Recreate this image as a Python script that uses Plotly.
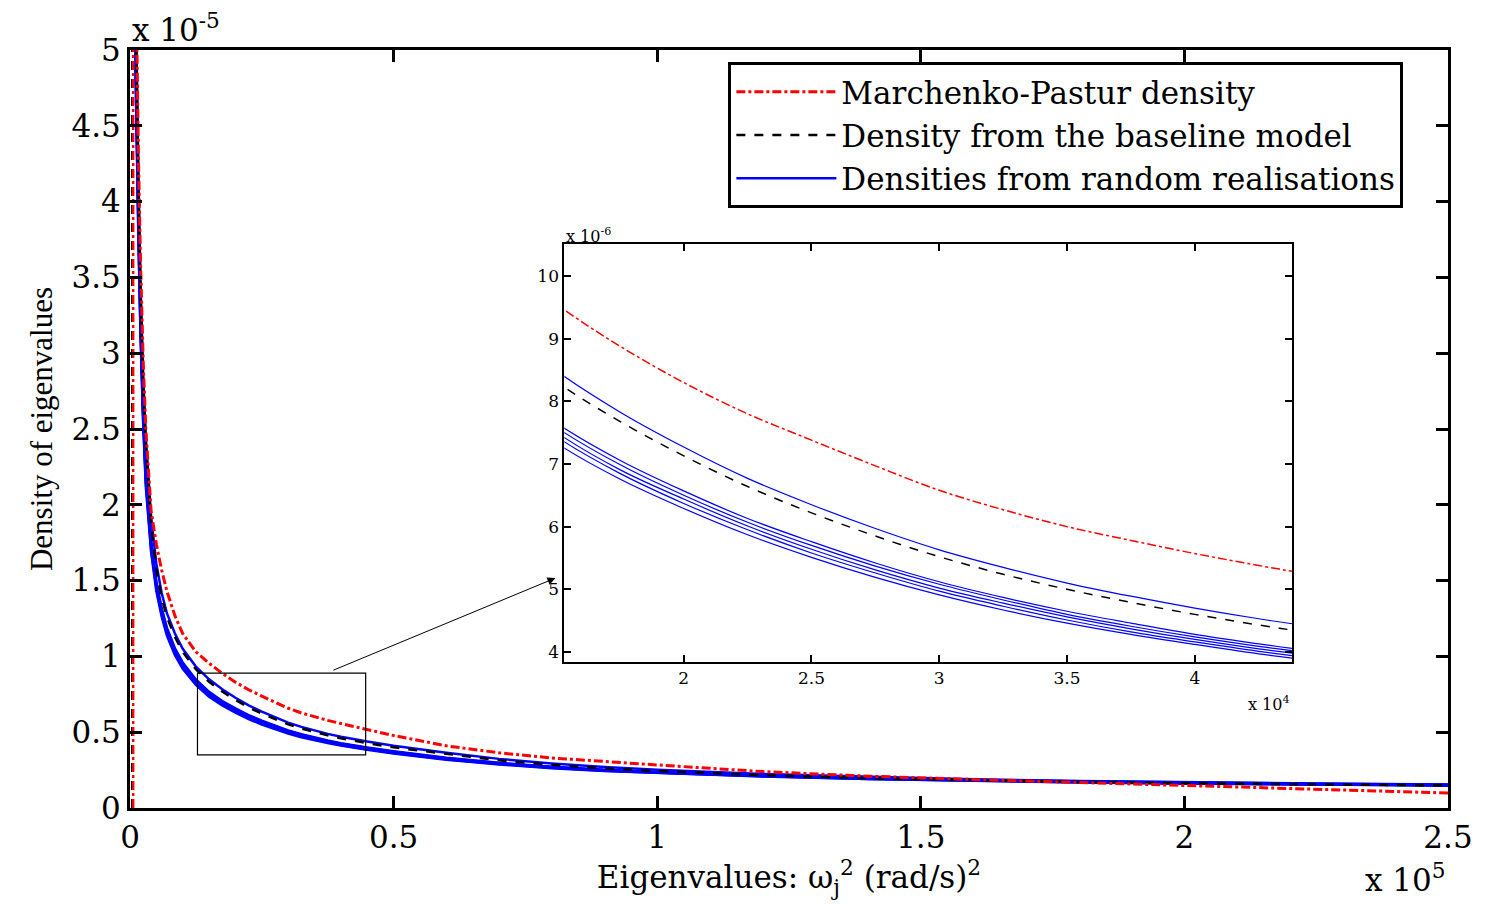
import plotly.graph_objects as go

# ---------------- data (eigenvalue in (rad/s)^2, densities in units of 1e-6) ----------------
eig_x = [1000, 1300, 1600, 2000, 2500, 3000, 3500, 4000, 5000, 6000, 7000, 8500, 10000,
         12500, 15000, 17500, 20000, 22500, 25000, 27500, 30000, 32500, 35000, 37500,
         40000, 42500, 45000, 50000, 60000, 70000, 80000, 90000, 100000, 120000, 140000,
         160000, 180000, 200000, 225000, 250000]

mp_density = [58, 50, 43, 36, 29.5, 25, 22, 19.6, 17.4, 15.7, 14.3, 12.7, 11.5,
              10.3, 9.55, 8.88, 8.3, 7.8, 7.38, 6.97, 6.58, 6.27, 6.0, 5.78,
              5.57, 5.38, 5.2, 4.78, 4.1, 3.64, 3.3, 3.05, 2.84, 2.4, 2.1,
              1.88, 1.68, 1.5, 1.26, 0.99]

baseline_density = [55, 47, 41, 34, 28, 24, 21, 18.8, 15.8, 13.9, 12.6, 11.3, 10.3,
                    9.15, 8.32, 7.68, 7.13, 6.64, 6.22, 5.85, 5.52, 5.24, 5.0, 4.79,
                    4.6, 4.43, 4.28, 4.0, 3.55, 3.15, 2.85, 2.62, 2.44, 2.17, 1.97,
                    1.83, 1.72, 1.63, 1.55, 1.49]

realisation_top = [55.5, 47.5, 41.5, 34.5, 28.5, 24.4, 21.4, 19.2, 16.1, 14.2, 12.85, 11.53, 10.5,
                   9.33, 8.49, 7.83, 7.27, 6.77, 6.35, 5.97, 5.63, 5.35, 5.1, 4.89,
                   4.7, 4.53, 4.38, 4.1, 3.64, 3.24, 2.94, 2.71, 2.52, 2.25, 2.05,
                   1.9, 1.78, 1.69, 1.61, 1.55]
realisation_1 = [52, 44.7, 39.1, 32.5, 26.4, 22.1, 19.6, 17.7, 14.9, 13.2, 11.9, 10.55, 9.6,
                 8.48, 7.66, 7.06, 6.57, 6.13, 5.76, 5.42, 5.12, 4.87, 4.65, 4.46,
                 4.28, 4.13, 3.99, 3.74, 3.31, 2.98, 2.72, 2.53, 2.38, 2.15, 1.98,
                 1.86, 1.76, 1.68, 1.6, 1.54]
realisation_2 = [51.3, 44.2, 38.7, 32.2, 26.1, 21.9, 19.4, 17.5, 14.8, 13.07, 11.76, 10.45, 9.5,
                 8.4, 7.59, 6.99, 6.5, 6.07, 5.7, 5.37, 5.08, 4.83, 4.6, 4.41,
                 4.24, 4.09, 3.96, 3.71, 3.29, 2.95, 2.7, 2.51, 2.36, 2.13, 1.96,
                 1.84, 1.74, 1.66, 1.58, 1.52]
realisation_3 = [50.6, 43.7, 38.3, 31.8, 25.9, 21.7, 19.2, 17.3, 14.6, 12.93, 11.64, 10.35, 9.4,
                 8.31, 7.51, 6.91, 6.44, 6.01, 5.64, 5.31, 5.02, 4.78, 4.56, 4.37,
                 4.2, 4.05, 3.92, 3.67, 3.25, 2.92, 2.68, 2.49, 2.34, 2.11, 1.94,
                 1.82, 1.72, 1.64, 1.56, 1.5]
realisation_4 = [50.2, 43.3, 37.9, 31.5, 25.6, 21.5, 19.0, 17.1, 14.5, 12.8, 11.52, 10.24, 9.31,
                 8.22, 7.44, 6.85, 6.37, 5.95, 5.58, 5.26, 4.97, 4.73, 4.51, 4.32,
                 4.16, 4.01, 3.88, 3.63, 3.22, 2.9, 2.65, 2.46, 2.32, 2.09, 1.92,
                 1.8, 1.7, 1.62, 1.55, 1.49]
realisation_5 = [49.6, 42.8, 37.4, 31.1, 25.3, 21.2, 18.8, 16.9, 14.3, 12.64, 11.37, 10.1, 9.18,
                 8.12, 7.34, 6.76, 6.29, 5.87, 5.51, 5.19, 4.91, 4.67, 4.46, 4.28,
                 4.12, 3.97, 3.84, 3.6, 3.19, 2.87, 2.63, 2.44, 2.3, 2.07, 1.91,
                 1.79, 1.69, 1.61, 1.54, 1.48]

# near-zero spikes of the densities (vertical segments at the left edge)
mp_spike_x = [600, 600]
mp_spike_y = [0, 60]
baseline_spike_x = [420, 420]
baseline_spike_y = [0, 60]

# axis ranges / ticks
main_x_range = [0, 250000]
main_y_range = [0, 5e-5]
main_x_ticks = [0, 50000, 100000, 150000, 200000, 250000]
main_x_labels = ["0", "0.5", "1", "1.5", "2", "2.5"]
main_y_ticks = [0, 0.5e-5, 1e-5, 1.5e-5, 2e-5, 2.5e-5, 3e-5, 3.5e-5, 4e-5, 4.5e-5, 5e-5]
main_y_labels = ["0", "0.5", "1", "1.5", "2", "2.5", "3", "3.5", "4", "4.5", "5"]

inset_x_range = [15330, 43800]
inset_y_range = [3.84e-6, 10.51e-6]
inset_x_ticks = [20000, 25000, 30000, 35000, 40000]
inset_x_labels = ["2", "2.5", "3", "3.5", "4"]
inset_y_ticks = [4e-6, 5e-6, 6e-6, 7e-6, 8e-6, 9e-6, 10e-6]
inset_y_labels = ["4", "5", "6", "7", "8", "9", "10"]

zoom_box_x = [12800, 44700]
zoom_box_y = [0.35e-5, 0.89e-5]
arrow_tail = [38300, 0.905e-5]
arrow_head = [80700, 1.517e-5]

scale = 1e-6
def sc(v):
    return [a * scale for a in v]

realisations = [realisation_top, realisation_1, realisation_2, realisation_3,
                realisation_4, realisation_5]

RED = "#ff0000"
BLUE = "#0000ff"
H_FONT = "DejaVu Serif"
V_FONT = "Liberation Serif"

fig = go.Figure()

# ---------------- main axes ----------------
for i, r in enumerate(realisations):
    fig.add_trace(go.Scatter(x=eig_x, y=sc(r), mode="lines",
                             line=dict(color=BLUE, width=2.5),
                             name="Densities from random realisations",
                             showlegend=(i == 0), legendrank=3,
                             xaxis="x", yaxis="y"))
fig.add_trace(go.Scatter(x=baseline_spike_x, y=sc(baseline_spike_y), mode="lines",
                         line=dict(color="black", width=2.5, dash="dash"),
                         showlegend=False, xaxis="x", yaxis="y"))
fig.add_trace(go.Scatter(x=eig_x, y=sc(baseline_density), mode="lines",
                         line=dict(color="black", width=2.5, dash="dash"),
                         name="Density from the baseline model", legendrank=2,
                         xaxis="x", yaxis="y"))
fig.add_trace(go.Scatter(x=mp_spike_x, y=sc(mp_spike_y), mode="lines",
                         line=dict(color=RED, width=2.5, dash="dashdot"),
                         showlegend=False, xaxis="x", yaxis="y"))
fig.add_trace(go.Scatter(x=eig_x, y=sc(mp_density), mode="lines",
                         line=dict(color=RED, width=3, dash="dashdot"),
                         name="Marchenko-Pastur density", legendrank=1,
                         xaxis="x", yaxis="y"))

# ---------------- inset axes ----------------
for r in realisations:
    fig.add_trace(go.Scatter(x=eig_x, y=sc(r), mode="lines", line_shape="spline",
                             line=dict(color=BLUE, width=1.2), showlegend=False,
                             xaxis="x2", yaxis="y2"))
fig.add_trace(go.Scatter(x=eig_x, y=sc(baseline_density), mode="lines", line_shape="spline",
                         line=dict(color="black", width=1.5, dash="dash"), showlegend=False,
                         xaxis="x2", yaxis="y2"))
fig.add_trace(go.Scatter(x=eig_x, y=sc(mp_density), mode="lines", line_shape="spline",
                         line=dict(color=RED, width=1.5, dash="dashdot"), showlegend=False,
                         xaxis="x2", yaxis="y2"))

L, R, T, B = 130, 29, 50, 97
W, H = 1485, 905
pw, ph = W - L - R, H - T - B
ix0, ix1 = (567 - L) / pw, (1299 - L) / pw
iy0, iy1 = (H - B - 662) / ph, (H - B - 244) / ph

axis_common = dict(showgrid=False, zeroline=False, showline=True, linecolor="black",
                   mirror="ticks", ticks="inside", tickcolor="black")

fig.update_layout(
    width=W, height=H,
    margin=dict(l=L, r=R, t=T, b=B),
    paper_bgcolor="white", plot_bgcolor="white",
    font=dict(family=H_FONT, color="black"),
    xaxis=dict(domain=[0, 1], range=main_x_range, tickvals=main_x_ticks,
               ticktext=main_x_labels, linewidth=3, tickwidth=3, ticklen=12,
               tickfont=dict(size=31, family=H_FONT), anchor="y",
               title=dict(text="Eigenvalues: ω<sub>j</sub><sup>2</sup> (rad/s)<sup>2</sup>",
                          font=dict(size=31, family=H_FONT), standoff=4),
               **axis_common),
    yaxis=dict(domain=[0, 1], range=main_y_range, tickvals=main_y_ticks,
               ticktext=main_y_labels, linewidth=3, tickwidth=3, ticklen=12,
               tickfont=dict(size=31, family=H_FONT), anchor="x",
               title=dict(text="Density of eigenvalues",
                          font=dict(size=31, family=V_FONT), standoff=10),
               **axis_common),
    xaxis2=dict(domain=[ix0, ix1], range=inset_x_range, tickvals=inset_x_ticks,
                ticktext=inset_x_labels, linewidth=2, tickwidth=2, ticklen=7,
                tickfont=dict(size=17, family=H_FONT), anchor="y2", **axis_common),
    yaxis2=dict(domain=[iy0, iy1], range=inset_y_range, tickvals=inset_y_ticks,
                ticktext=inset_y_labels, linewidth=2, tickwidth=2, ticklen=7,
                tickfont=dict(size=17, family=H_FONT), anchor="x2", **axis_common),
    legend=dict(x=(732 - L) / pw, y=(H - B - 62) / ph, xanchor="left", yanchor="top",
                bgcolor="white", bordercolor="black", borderwidth=3,
                font=dict(size=31, family=H_FONT), itemwidth=100,
                tracegroupgap=0),
    shapes=[dict(type="rect", xref="x", yref="y", x0=zoom_box_x[0], x1=zoom_box_x[1],
                 y0=zoom_box_y[0], y1=zoom_box_y[1], line=dict(color="black", width=1.2))],
    annotations=[
        dict(x=arrow_head[0], y=arrow_head[1], ax=arrow_tail[0], ay=arrow_tail[1],
             xref="x", yref="y", axref="x", ayref="y", text="", showarrow=True,
             arrowhead=2, arrowsize=1.6, arrowwidth=1, arrowcolor="black"),
        dict(x=0, y=1, xref="paper", yref="paper", xanchor="left", yanchor="bottom",
             text="x 10<sup>-5</sup>", showarrow=False, font=dict(size=31, family=H_FONT),
             yshift=0),
        dict(x=1, y=(H - B - 878) / ph, xref="paper", yref="paper", xanchor="right",
             yanchor="middle", text="x 10<sup>5</sup>", showarrow=False,
             font=dict(size=31, family=H_FONT)),
        dict(x=ix0, y=iy1, xref="paper", yref="paper", xanchor="left", yanchor="bottom",
             text="x 10<sup>-6</sup>", showarrow=False, font=dict(size=16, family=H_FONT),
             yshift=-4),
        dict(x=ix1, y=(H - B - 703) / ph, xref="paper", yref="paper", xanchor="right",
             yanchor="middle", text="x 10<sup>4</sup>", showarrow=False,
             font=dict(size=16, family=H_FONT)),
    ],
)

fig.write_html("out.html")
